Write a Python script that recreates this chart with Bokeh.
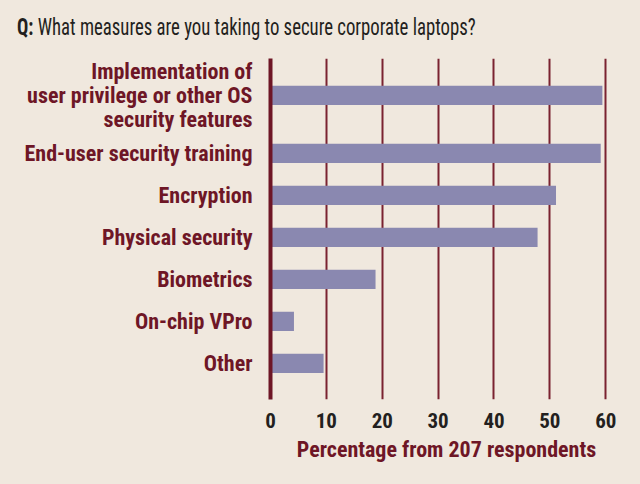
from bokeh.plotting import figure
from bokeh.models import Range1d, FixedTicker, Div
from bokeh.layouts import column
from bokeh.embed import file_html
from bokeh.resources import INLINE

# ---- data ----
categories = [
    "Implementation of\nuser privilege or other OS\nsecurity features",
    "End-user security training",
    "Encryption",
    "Physical security",
    "Biometrics",
    "On-chip VPro",
    "Other",
]
values = [59.4, 59.1, 51.1, 47.8, 18.8, 4.2, 9.5]
x_ticks = [0, 10, 20, 30, 40, 50, 60]
title_q = "Q:"
title_text = "What measures are you taking to secure corporate laptops?"
x_label = "Percentage from 207 respondents"

# ---- style ----
BG = "#F0E8DE"
BAR = "#8A88B0"
DARK_RED = "#6E1626"
GRID_RED = "#7A2230"
FONT = "Roboto Condensed"

# layout positions: extra gap around multi-line labels
EXTRA = 0.38
nlines = [c.count("\n") + 1 for c in categories]
ypos = [0.0]
for i in range(1, len(categories)):
    step = 1 + EXTRA * (nlines[i - 1] - 1) / 2 + EXTRA * (nlines[i] - 1) / 2
    ypos.append(round(ypos[-1] + step, 4))

TITLE_H = 50
title = Div(
    text=('<span style="display:inline-block;white-space:nowrap;transform:scaleX(0.815);'
          'transform-origin:left center;"><b>%s</b> %s</span>') % (title_q, title_text),
    width=640, height=TITLE_H, margin=(0, 0, 0, 0),
    styles={"background-color": BG, "font-family": FONT, "font-size": "23px",
            "color": "#231F20", "padding-left": "17px", "padding-top": "14px",
            "box-sizing": "border-box", "line-height": "1.2"},
)

p = figure(
    width=640, height=484 - TITLE_H,
    x_range=Range1d(0, 63),
    y_range=Range1d(ypos[-1] + 0.86, ypos[0] - 0.88),
    output_backend="svg", toolbar_location=None,
    min_border_left=270, min_border_right=18, min_border_top=58 - TITLE_H, min_border_bottom=85,
    margin=(0, 0, 0, 0),
)
p.background_fill_color = BG
p.border_fill_color = BG
p.outline_line_color = None

p.hbar(y=ypos, right=values, left=0, height=0.46, fill_color=BAR, line_color=None)

# x axis
p.xaxis.ticker = FixedTicker(ticks=x_ticks)
p.xaxis.axis_line_color = None
p.xaxis.major_tick_line_color = None
p.xaxis.minor_tick_line_color = None
p.xaxis.major_label_standoff = 7
p.xaxis.major_label_text_font = FONT
p.xaxis.major_label_text_font_style = "bold"
p.xaxis.major_label_text_font_size = "21px"
p.xaxis.major_label_text_color = "#231F20"
p.xaxis.axis_label = x_label
p.xaxis.axis_label_standoff = 6
p.xaxis.axis_label_text_font = FONT
p.xaxis.axis_label_text_font_style = "bold"
p.xaxis.axis_label_text_font_size = "22px"
p.xaxis.axis_label_text_color = DARK_RED

# y axis
p.yaxis.ticker = FixedTicker(ticks=ypos)
p.yaxis.major_label_overrides = {y: c for y, c in zip(ypos, categories)}
p.yaxis.axis_line_color = DARK_RED
p.yaxis.axis_line_width = 4
p.yaxis.major_tick_line_color = None
p.yaxis.minor_tick_line_color = None
p.yaxis.major_label_standoff = 12
p.yaxis.major_label_text_font = FONT
p.yaxis.major_label_text_font_style = "bold"
p.yaxis.major_label_text_font_size = "22px"
p.yaxis.major_label_text_color = DARK_RED
p.yaxis.major_label_text_line_height = 0.95

# grid
p.xgrid.ticker = FixedTicker(ticks=x_ticks)
p.xgrid.grid_line_color = GRID_RED
p.xgrid.grid_line_width = 2
p.ygrid.grid_line_color = None

layout = column(title, p, spacing=0, margin=(0, 0, 0, 0), styles={"background-color": BG})
open("out.html", "w").write(file_html(layout, INLINE))
